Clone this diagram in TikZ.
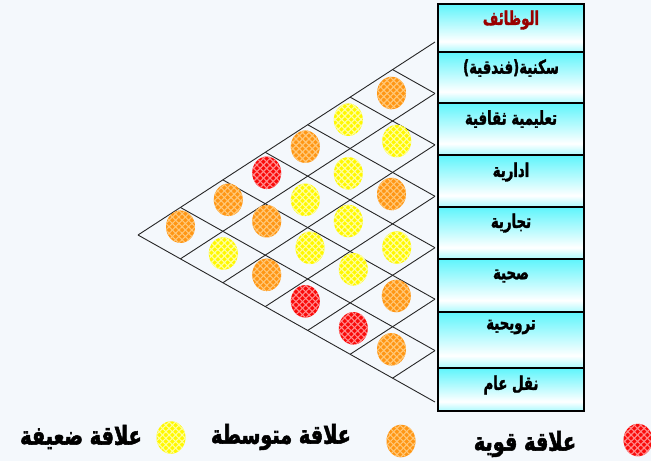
\documentclass[tikz,border=0pt]{standalone}
\usepackage{fontspec}
\newfontfamily\arabicfont[Script=Arabic, FakeStretch=0.7, FakeBold=1.6]{DejaVu Sans}
\newfontfamily\arabiclegend[Script=Arabic, FakeStretch=0.74, FakeBold=2]{DejaVu Sans}
\TeXXeTstate=1
\usetikzlibrary{shapes.geometric,patterns.meta}
\definecolor{bgC}{RGB}{244,248,252}
\definecolor{cyanC}{RGB}{20,240,250}
\definecolor{hdrC}{RGB}{153,0,0}
\definecolor{orC}{RGB}{255,150,20}
\definecolor{orL}{RGB}{255,200,120}
\definecolor{yeC}{RGB}{255,248,0}
\definecolor{yeL}{RGB}{255,255,160}
\definecolor{reC}{RGB}{250,10,10}
\definecolor{reL}{RGB}{255,140,140}
\pgfdeclareverticalshading{rowshade}{100bp}{color(0bp)=(cyanC); color(5bp)=(cyanC); color(36bp)=(white); color(93bp)=(cyanC); color(100bp)=(cyanC)}
\tikzset{
  latline/.style={draw=black!85, line width=0.9pt},
  rowbox/.style={draw=black, line width=2pt, shading=rowshade, minimum width=146pt, inner sep=0pt, rectangle},
  rowtext/.style={font=\arabicfont\bfseries\fontsize{19}{21}\selectfont, inner sep=0pt},
  legtext/.style={font=\arabiclegend\bfseries\fontsize{26}{28}\selectfont, inner sep=0pt},
  blob/.style 2 args={ellipse, minimum width=29pt, minimum height=32.5pt, inner sep=0pt, fill=#1,
     postaction={pattern={Lines[angle=45,distance=4.6pt,line width=1.1pt]}, pattern color=#2},
     postaction={pattern={Lines[angle=-45,distance=4.6pt,line width=1.1pt]}, pattern color=#2}},
  oblob/.style={blob={orC}{orL}},
  yblob/.style={blob={yeC}{yeL}},
  rblob/.style={blob={reC}{reL}}
}
\begin{document}
\begin{tikzpicture}[x=1pt,y=-1pt]
\useasboundingbox (0,0) rectangle (651,461);
\fill[bgC] (0,0) rectangle (651,461);
% lattice nodes
\foreach \i in {0,...,7}{
  \foreach \j in {0,...,7}{
    \pgfmathtruncatemacro\s{\i+\j}
    \ifnum\s<8
      \coordinate (n-\i-\j) at ({138+42.4286*(\i+\j)},{235-27.5714*\i+23.8571*\j});
    \fi
  }
}
\foreach \k in {0,...,6}{
  \pgfmathtruncatemacro\m{7-\k}
  \draw[latline] (n-\k-0) -- (n-\k-\m);
  \draw[latline] (n-0-\k) -- (n-\m-\k);
}
% relation circles
\node[oblob] (c11) at (391.5,93) {};
\node[yblob] (c12) at (396.7,141) {};
\node[oblob] (c13) at (391.5,194) {};
\node[yblob] (c14) at (396.7,247.5) {};
\node[oblob] (c15) at (396.3,296) {};
\node[oblob] (c16) at (391.5,349.3) {};
\node[yblob] (c21) at (348.3,119.7) {};
\node[yblob] (c22) at (348.3,173.3) {};
\node[yblob] (c23) at (348.3,221) {};
\node[yblob] (c24) at (353.3,269.3) {};
\node[rblob] (c25) at (353.3,328.3) {};
\node[oblob] (c31) at (305.3,146.7) {};
\node[yblob] (c32) at (305.3,199.8) {};
\node[yblob] (c33) at (310,247.8) {};
\node[rblob] (c34) at (305.3,301.3) {};
\node[rblob] (c41) at (266.7,172.8) {};
\node[oblob] (c42) at (266.7,221.2) {};
\node[oblob] (c43) at (266.7,274.8) {};
\node[oblob] (c51) at (228.3,199.8) {};
\node[yblob] (c52) at (223.3,253.5) {};
\node[oblob] (c61) at (180.5,226.7) {};
% table rows
\foreach \t/\b [count=\r from 0] in {4/52,52/103,103/155,155/207,207/259,259/312,312/368,368/411}{
  \node[rowbox, minimum height={\b-\t}] (row\r) at (511,{(\t+\b)/2}) {};
}
\node[rowtext, text=hdrC] (t0) at (511,20) {\beginR الوظائف\endR};
\node[rowtext] (t1) at (511,68) {\beginR سكنية(فندقية)\endR};
\node[rowtext] (t2) at (511,119) {\beginR تعليمية ثقافية\endR};
\node[rowtext] (t3) at (511,172) {\beginR ادارية\endR};
\node[rowtext] (t4) at (511,223) {\beginR تجارية\endR};
\node[rowtext] (t5) at (511,276) {\beginR صحية\endR};
\node[rowtext] (t6) at (511,327) {\beginR ترويحية\endR};
\node[rowtext] (t7) at (511,385) {\beginR نقل عام\endR};
\draw[line width=2.2pt] (438,4) rectangle (584,411);
% legend
\node[rblob] (lr) at (638,440) {};
\node[oblob] (lo) at (401,441) {};
\node[yblob] (ly) at (171,437.5) {};
\node[legtext] (tr) at (525,444) {\beginR علاقة قوية\endR};
\node[legtext] (to) at (281,437) {\beginR علاقة متوسطة\endR};
\node[legtext] (ty) at (81,437) {\beginR علاقة ضعيفة\endR};
\end{tikzpicture}
\end{document}
